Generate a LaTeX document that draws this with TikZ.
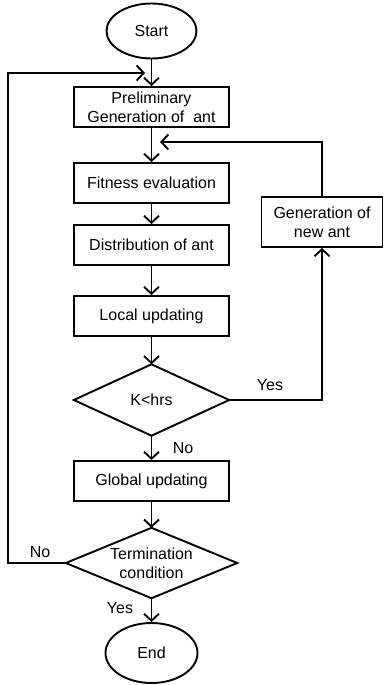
\documentclass[tikz,border=0pt]{standalone}
\usepackage{fontspec}
\setmainfont{Liberation Sans}
\usetikzlibrary{arrows.meta,shapes.geometric}
\begin{document}
\begin{tikzpicture}[x=1pt,y=-1pt,
  every node/.style={font=\fontsize{16}{19}\selectfont},
  procbox/.style={draw,line width=1.9pt,rectangle,minimum width=155pt,minimum height=40pt,inner sep=0pt,align=center},
  termbox/.style={draw,line width=1.9pt,ellipse,inner sep=0pt,align=center},
  decbox/.style={rectangle,inner sep=0pt,align=center},
  decline/.style={line width=1.9pt,line join=miter},
  arr/.style={line width=1.9pt,-{Straight Barb[length=7pt,width=15pt,line width=1.9pt]}},
  lbl/.style={inner sep=0pt}]
\useasboundingbox (0,0) rectangle (384,685);
\node[termbox,minimum width=90pt,minimum height=55pt] (start) at (151.5,31) {Start};
\node[procbox] (prelim) at (151.5,107) {Preliminary\\Generation of~ ant};
\node[procbox] (fit) at (151.5,183) {Fitness evaluation};
\node[procbox] (dist) at (151.5,245) {Distribution of ant};
\node[procbox] (local) at (151.5,316) {Local updating};
\node[decbox,minimum width=155pt,minimum height=71pt] (k) at (151.5,400) {K<hrs};
\draw[decline] (k.north) -- (k.east) -- (k.south) -- (k.west) -- cycle;
\node[procbox] (global) at (151.5,481) {Global updating};
\node[decbox,minimum width=171pt,minimum height=70pt] (term) at (151.5,563) {Termination\\condition};
\draw[decline] (term.north) -- (term.east) -- (term.south) -- (term.west) -- cycle;
\node[termbox,minimum width=92pt,minimum height=60pt] (end) at (151.5,653) {End};
\node[procbox,minimum width=121pt,minimum height=50pt] (gen) at (322,222) {Generation of\\new ant};
\coordinate (retend) at (160,142);
\coordinate (loopcorner) at (8,563);
\coordinate (loopend) at (145,73);
\draw[arr] (start) -- (prelim);
\draw[arr] (prelim) -- (fit);
\draw[arr] (fit) -- (dist);
\draw[arr] (dist) -- (local);
\draw[arr] (local) -- (k.north);
\draw[arr] (k.east) -| (gen.south);
\draw[arr] (gen.north) |- (retend);
\draw[arr] (k.south) -- (global);
\draw[arr] (global) -- (term.north);
\draw[arr] (term.south) -- (end);
\draw[arr] (term.west) -- (loopcorner) |- (loopend);
\node[lbl] (yes1) at (270,385) {Yes};
\node[lbl] (no1) at (183,448) {No};
\node[lbl] (no2) at (40,552) {No};
\node[lbl] (yes2) at (120,608) {Yes};
\end{tikzpicture}
\end{document}
